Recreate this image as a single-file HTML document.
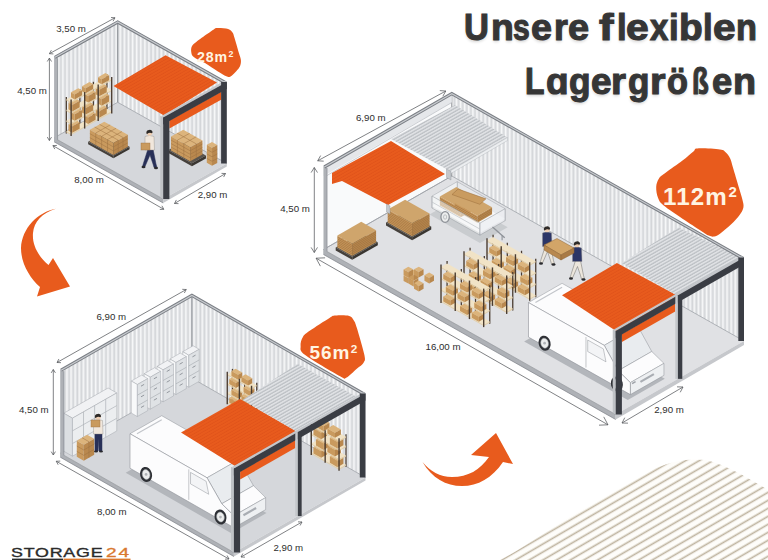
<!DOCTYPE html>
<html><head><meta charset="utf-8"><style>
html,body{margin:0;padding:0;background:#fff;}
body{width:768px;height:560px;position:relative;overflow:hidden;font-family:"Liberation Sans",sans-serif;}
.tg{position:absolute;font-weight:bold;font-size:36.8px;line-height:1;color:#363636;white-space:nowrap;transform-origin:0 0;-webkit-text-stroke:1.1px #363636;text-shadow:0 2px 3px rgba(0,0,0,0.16);}
.t{position:absolute;font-weight:bold;font-size:38.3px;color:#363636;white-space:nowrap;right:12.4px;text-shadow:0 2px 3px rgba(0,0,0,0.18);-webkit-text-stroke:1.3px #363636;}
.b{position:absolute;font-weight:bold;color:#fff4e2;white-space:nowrap;line-height:1;}
.b sup{font-size:0.62em;vertical-align:0;position:relative;top:-0.5em;margin-left:0.5px}
.logo{position:absolute;top:546px;font-size:13.4px;line-height:14px;white-space:nowrap;transform-origin:0 0;transform:scaleX(1.33);letter-spacing:0.6px;-webkit-text-stroke:0.35px currentColor;}
.logo.s{color:#2b2b2b;} .logo.n{color:#d9782f;transform:scaleX(1.42);letter-spacing:1.4px;}
.d{position:absolute;font-size:9.7px;color:#2e2e2e;white-space:nowrap;transform:translate(-50%,-50%);}
</style></head><body>
<svg width="768" height="560" viewBox="0 0 768 560" style="position:absolute;left:0;top:0">
<defs>
<pattern id="ribs" patternUnits="userSpaceOnUse" width="4.1" height="10">
<rect width="4.1" height="10" fill="#dcdee1"/>
<rect x="0.6" width="1.5" height="10" fill="#f7f8f9"/>
<rect x="3.3" width="0.5" height="10" fill="#cfd1d5"/>
</pattern>
<pattern id="hribs" patternUnits="userSpaceOnUse" width="10" height="3.3" patternTransform="skewY(-29.5)">
<rect width="10" height="3.3" fill="#dfe1e4"/>
<rect y="2.1" width="10" height="0.9" fill="#a9adb2"/>
</pattern>
<pattern id="orib" patternUnits="userSpaceOnUse" width="10" height="3.2" patternTransform="skewY(-29.5)">
<rect width="10" height="3.2" fill="#e85b1d"/>
<rect y="2.2" width="10" height="1" fill="#e0531a"/>
</pattern>
<pattern id="diag" patternUnits="userSpaceOnUse" width="20" height="6.9" patternTransform="rotate(-30.3)">
<rect y="4.5" width="20" height="1.65" fill="#bfb4a0"/>
</pattern>
</defs>
<clipPath id="dclip"><path d="M500,560 C525,547 548,530 570,517 C595,503 625,485 656,468 C672,461 690,458 705,460 C722,463 745,476 768,490 L768,560 Z"/></clipPath>
<g clip-path="url(#dclip)"><rect x="480" y="440" width="288" height="120" fill="#fefdfa"/><rect x="480" y="440" width="288" height="120" fill="url(#diag)"/></g>
<polygon points="54.10,137.80 117.70,102.30 226.80,163.50 163.20,199.00" fill="#d5d7db" />
<polygon points="54.10,56.30 117.70,20.80 117.70,102.30 54.10,137.80" fill="url(#ribs)" />
<polygon points="117.70,20.80 226.80,82.00 226.80,163.50 117.70,102.30" fill="url(#ribs)" />
<polyline points="54.10,137.80 117.70,102.30 226.80,163.50" fill="none" stroke="#9da1a7" stroke-width="0.8"/>
<line x1="117.70" y1="20.80" x2="117.70" y2="102.30" stroke="#7f8288" stroke-width="0.9" />
<line x1="66.32" y1="133.42" x2="66.32" y2="96.92" stroke="#4b3d31" stroke-width="1.3" />
<line x1="79.86" y1="125.86" x2="79.86" y2="89.36" stroke="#4b3d31" stroke-width="1.3" />
<line x1="93.39" y1="118.31" x2="93.39" y2="81.81" stroke="#4b3d31" stroke-width="1.3" />
<line x1="106.93" y1="110.75" x2="106.93" y2="74.25" stroke="#4b3d31" stroke-width="1.3" />
<polygon points="66.32,131.32 71.12,134.01 111.72,111.35 106.93,108.65" fill="#f1e3c6" />
<polygon points="66.32,132.42 71.12,135.11 71.12,134.01 66.32,131.32" fill="#e3cfa9" />
<polygon points="71.12,135.11 111.72,112.45 111.72,111.35 71.12,134.01" fill="#e3cfa9" />
<polygon points="68.47,124.21 72.22,126.31 79.66,122.15 75.91,120.05" fill="#dcb47c" />
<polygon points="68.47,130.71 72.22,132.81 72.22,126.31 68.47,124.21" fill="#c99a5e" />
<polygon points="72.22,132.81 79.66,128.65 79.66,122.15 72.22,126.31" fill="#b9884e" />
<polygon points="84.44,115.29 88.19,117.39 95.63,113.24 91.88,111.14" fill="#dcb47c" />
<polygon points="84.44,121.79 88.19,123.89 88.19,117.39 84.44,115.29" fill="#c99a5e" />
<polygon points="88.19,123.89 95.63,119.74 95.63,113.24 88.19,117.39" fill="#b9884e" />
<polygon points="95.54,109.10 99.29,111.20 106.73,107.04 102.98,104.94" fill="#dcb47c" />
<polygon points="95.54,115.60 99.29,117.70 99.29,111.20 95.54,109.10" fill="#c99a5e" />
<polygon points="99.29,117.70 106.73,113.54 106.73,107.04 99.29,111.20" fill="#b9884e" />
<polygon points="66.32,120.65 71.12,123.34 111.72,100.68 106.93,97.99" fill="#f1e3c6" />
<polygon points="66.32,121.75 71.12,124.44 71.12,123.34 66.32,120.65" fill="#e3cfa9" />
<polygon points="71.12,124.44 111.72,101.78 111.72,100.68 71.12,123.34" fill="#e3cfa9" />
<polygon points="70.91,112.18 74.66,114.28 82.10,110.13 78.35,108.02" fill="#dcb47c" />
<polygon points="70.91,118.68 74.66,120.78 74.66,114.28 70.91,112.18" fill="#c99a5e" />
<polygon points="74.66,120.78 82.10,116.63 82.10,110.13 74.66,114.28" fill="#b9884e" />
<polygon points="82.00,105.98 85.75,108.09 93.20,103.93 89.45,101.83" fill="#dcb47c" />
<polygon points="82.00,112.48 85.75,114.59 85.75,108.09 82.00,105.98" fill="#c99a5e" />
<polygon points="85.75,114.59 93.20,110.43 93.20,103.93 85.75,108.09" fill="#b9884e" />
<polygon points="97.97,97.07 101.72,99.17 109.17,95.02 105.42,92.91" fill="#dcb47c" />
<polygon points="97.97,103.57 101.72,105.67 101.72,99.17 97.97,97.07" fill="#c99a5e" />
<polygon points="101.72,105.67 109.17,101.52 109.17,95.02 101.72,99.17" fill="#b9884e" />
<polygon points="66.32,109.98 71.12,112.68 111.72,90.01 106.93,87.32" fill="#f1e3c6" />
<polygon points="66.32,111.08 71.12,113.78 71.12,112.68 66.32,109.98" fill="#e3cfa9" />
<polygon points="71.12,113.78 111.72,91.11 111.72,90.01 71.12,112.68" fill="#e3cfa9" />
<polygon points="68.47,102.87 72.22,104.98 79.66,100.82 75.91,98.72" fill="#dcb47c" />
<polygon points="68.47,109.37 72.22,111.48 72.22,104.98 68.47,102.87" fill="#c99a5e" />
<polygon points="72.22,111.48 79.66,107.32 79.66,100.82 72.22,104.98" fill="#b9884e" />
<polygon points="84.44,93.96 88.19,96.06 95.63,91.91 91.88,89.80" fill="#dcb47c" />
<polygon points="84.44,100.46 88.19,102.56 88.19,96.06 84.44,93.96" fill="#c99a5e" />
<polygon points="88.19,102.56 95.63,98.41 95.63,91.91 88.19,96.06" fill="#b9884e" />
<polygon points="95.54,87.76 99.29,89.87 106.73,85.71 102.98,83.61" fill="#dcb47c" />
<polygon points="95.54,94.26 99.29,96.37 99.29,89.87 95.54,87.76" fill="#c99a5e" />
<polygon points="99.29,96.37 106.73,92.21 106.73,85.71 99.29,89.87" fill="#b9884e" />
<polygon points="66.32,99.32 71.12,102.01 111.72,79.35 106.93,76.65" fill="#f1e3c6" />
<polygon points="66.32,100.42 71.12,103.11 71.12,102.01 66.32,99.32" fill="#e3cfa9" />
<polygon points="71.12,103.11 111.72,80.45 111.72,79.35 71.12,102.01" fill="#e3cfa9" />
<polygon points="70.91,92.35 74.66,94.45 82.10,90.29 78.35,88.19" fill="#dcb47c" />
<polygon points="70.91,97.35 74.66,99.45 74.66,94.45 70.91,92.35" fill="#c99a5e" />
<polygon points="74.66,99.45 82.10,95.29 82.10,90.29 74.66,94.45" fill="#b9884e" />
<polygon points="82.00,86.15 85.75,88.25 93.20,84.10 89.45,82.00" fill="#dcb47c" />
<polygon points="82.00,91.15 85.75,93.25 85.75,88.25 82.00,86.15" fill="#c99a5e" />
<polygon points="85.75,93.25 93.20,89.10 93.20,84.10 85.75,88.25" fill="#b9884e" />
<polygon points="97.97,77.24 101.72,79.34 109.17,75.18 105.42,73.08" fill="#dcb47c" />
<polygon points="97.97,82.24 101.72,84.34 101.72,79.34 97.97,77.24" fill="#c99a5e" />
<polygon points="101.72,84.34 109.17,80.18 109.17,75.18 101.72,79.34" fill="#b9884e" />
<line x1="71.12" y1="136.11" x2="71.12" y2="99.61" stroke="#4b3d31" stroke-width="1.4" />
<line x1="84.65" y1="128.55" x2="84.65" y2="92.05" stroke="#4b3d31" stroke-width="1.4" />
<line x1="98.19" y1="121.00" x2="98.19" y2="84.50" stroke="#4b3d31" stroke-width="1.4" />
<line x1="111.72" y1="113.45" x2="111.72" y2="76.95" stroke="#4b3d31" stroke-width="1.4" />
<polygon points="88.13,141.68 113.42,155.87 129.57,146.86 104.28,132.67" fill="#5a544d" />
<polygon points="88.13,144.18 113.42,158.37 113.42,155.87 88.13,141.68" fill="#45403b" />
<polygon points="113.42,158.37 129.57,149.36 129.57,146.86 113.42,155.87" fill="#3a3631" />
<polygon points="89.87,129.69 113.42,142.90 127.83,134.85 104.28,121.64" fill="#dcb47c" />
<polygon points="89.87,141.69 113.42,154.90 113.42,142.90 89.87,129.69" fill="#c99a5e" />
<polygon points="113.42,154.90 127.83,146.85 127.83,134.85 113.42,142.90" fill="#b9884e" />
<polyline points="89.87,137.69 113.42,150.90 127.83,142.85" fill="none" stroke="#9c7040" stroke-width="0.5"/>
<polyline points="89.87,133.69 113.42,146.90 127.83,138.85" fill="none" stroke="#9c7040" stroke-width="0.5"/>
<polyline points="95.76,144.99 95.76,132.99 110.17,124.95" fill="none" stroke="#9c7040" stroke-width="0.5"/>
<polyline points="101.65,148.29 101.65,136.29 116.05,128.25" fill="none" stroke="#9c7040" stroke-width="0.5"/>
<polyline points="107.53,151.59 107.53,139.59 121.94,131.55" fill="none" stroke="#9c7040" stroke-width="0.5"/>
<polyline points="118.22,152.21 118.22,140.21 94.68,127.01" fill="none" stroke="#9c7040" stroke-width="0.5"/>
<polyline points="123.03,149.53 123.03,137.53 99.48,124.32" fill="none" stroke="#9c7040" stroke-width="0.5"/>
<g transform="translate(149.5,167) scale(1.0)"><path d="M-1.5,-18 L-6,-4 L-7,-0.5 L-4.5,-0.5 L0.5,-12 L3.5,-3 L4.5,0.5 L7.5,0.5 L6.5,-3 L3.5,-18 Z" fill="#283058" stroke="#283058" stroke-width="0.5"/><ellipse cx="-6" cy="0" rx="2" ry="1.2" fill="#2a2a2e"/><ellipse cx="6.5" cy="1" rx="2" ry="1.2" fill="#2a2a2e"/><path d="M-4.5,-30.5 Q0,-32.5 4.5,-30.5 L5,-17 L-4.5,-17 Z" fill="#f1e7dc" stroke="#8d8a86" stroke-width="0.4"/><circle cx="0" cy="-34" r="2.8" fill="#efcfb3"/><path d="M-3.1,-33.6 A3.1,3.1 0 0 1 3.1,-34.4 L2.2,-33.8 Q0,-35 -2.4,-33 Z" fill="#2d2a28"/></g>
<rect x="141" y="143" width="9" height="7" fill="#c99a5e" stroke="#9c7040" stroke-width="0.4"/>
<polygon points="168.40,150.06 191.95,163.27 205.92,155.47 182.37,142.26" fill="#5a544d" />
<polygon points="168.40,153.06 191.95,166.27 191.95,163.27 168.40,150.06" fill="#45403b" />
<polygon points="191.95,166.27 205.92,158.47 205.92,155.47 191.95,163.27" fill="#3a3631" />
<polygon points="171.02,136.55 190.21,147.31 202.43,140.49 183.25,129.73" fill="#dcb47c" />
<polygon points="171.02,150.55 190.21,161.31 190.21,147.31 171.02,136.55" fill="#c99a5e" />
<polygon points="190.21,161.31 202.43,154.49 202.43,140.49 190.21,147.31" fill="#b9884e" />
<polyline points="171.02,147.05 190.21,157.81 202.43,150.99" fill="none" stroke="#9c7040" stroke-width="0.5"/>
<polyline points="171.02,143.55 190.21,154.31 202.43,147.49" fill="none" stroke="#9c7040" stroke-width="0.5"/>
<polyline points="171.02,140.05 190.21,150.81 202.43,143.99" fill="none" stroke="#9c7040" stroke-width="0.5"/>
<polyline points="177.42,154.14 177.42,140.14 189.64,133.31" fill="none" stroke="#9c7040" stroke-width="0.5"/>
<polyline points="183.81,157.73 183.81,143.73 196.04,136.90" fill="none" stroke="#9c7040" stroke-width="0.5"/>
<polyline points="196.32,157.90 196.32,143.90 177.13,133.14" fill="none" stroke="#9c7040" stroke-width="0.5"/>
<polygon points="206.79,144.87 212.02,147.80 217.26,144.88 212.03,141.94" fill="#dcb47c" />
<polygon points="206.79,162.87 212.02,165.80 212.02,147.80 206.79,144.87" fill="#c99a5e" />
<polygon points="212.02,165.80 217.26,162.88 217.26,144.88 212.02,147.80" fill="#b9884e" />
<polyline points="206.79,158.37 212.02,161.30 217.26,158.38" fill="none" stroke="#9c7040" stroke-width="0.5"/>
<polyline points="206.79,153.87 212.02,156.80 217.26,153.88" fill="none" stroke="#9c7040" stroke-width="0.5"/>
<polyline points="206.79,149.37 212.02,152.30 217.26,149.38" fill="none" stroke="#9c7040" stroke-width="0.5"/>
<polygon points="113.50,86.00 165.50,55.30 217.00,82.50 164.00,115.50" fill="url(#orib)" />
<polygon points="54.10,137.80 163.20,199.00 163.20,203.00 54.10,141.80" fill="#aeb1b6" />
<polygon points="163.20,199.00 226.80,163.50 226.80,166.50 163.20,203.00" fill="#c6c8cc" />
<line x1="54.10" y1="141.80" x2="163.20" y2="203.00" stroke="#7d8086" stroke-width="0.7" />
<line x1="54.10" y1="137.80" x2="163.20" y2="199.00" stroke="#8a8d92" stroke-width="0.6" />
<polygon points="54.10,56.30 57.60,58.30 57.60,139.80 54.10,141.80" fill="#aeb1b6" />
<line x1="57.60" y1="58.30" x2="57.60" y2="139.80" stroke="#8d9197" stroke-width="0.8" />
<polyline points="54.90,57.30 117.70,22.00 226.00,83.00" fill="none" stroke="#7b7f85" stroke-width="3.2" stroke-linejoin="miter"/>
<polyline points="54.90,57.30 117.70,22.00 226.00,83.00" fill="none" stroke="#c9ccd0" stroke-width="1.1" stroke-linejoin="miter"/>
<polygon points="169.40,120.54 221.10,91.68 221.10,99.68 169.40,128.54" fill="#e85b1d" />
<polygon points="160.93,116.23 224.53,80.73 226.80,82.00 163.20,117.50" fill="#c4c7cb" />
<polygon points="160.23,115.84 163.20,117.50 163.20,199.00 160.23,197.34" fill="#bfc2c6" />
<polygon points="163.20,117.50 226.80,82.00 226.80,89.00 163.20,124.50" fill="#3a3d44" />
<polygon points="163.20,117.50 169.40,117.50 169.40,199.00 163.20,199.00" fill="#3a3d44" />
<polygon points="221.10,82.00 226.80,82.00 226.80,163.50 221.10,163.50" fill="#3a3d44" />
<polygon points="60.30,453.20 191.90,378.20 365.50,477.50 233.90,552.50" fill="#d5d7db" />
<polygon points="60.30,369.20 191.90,294.20 191.90,378.20 60.30,453.20" fill="url(#ribs)" />
<polygon points="191.90,294.20 365.50,393.50 365.50,477.50 191.90,378.20" fill="url(#ribs)" />
<polyline points="60.30,453.20 191.90,378.20 365.50,477.50" fill="none" stroke="#9da1a7" stroke-width="0.8"/>
<line x1="191.90" y1="294.20" x2="191.90" y2="378.20" stroke="#7f8288" stroke-width="0.9" />
<polygon points="63.78,413.22 72.46,418.18 116.76,392.93 108.08,387.97" fill="#f1f2f4" stroke="#a3a7ac" stroke-width="0.5" stroke-linejoin="round"/>
<polygon points="63.78,451.22 72.46,456.18 72.46,418.18 63.78,413.22" fill="#dcdfe2" stroke="#a3a7ac" stroke-width="0.5" stroke-linejoin="round"/>
<polygon points="72.46,456.18 116.76,430.93 116.76,392.93 72.46,418.18" fill="#eceef0" stroke="#a3a7ac" stroke-width="0.5" stroke-linejoin="round"/>
<line x1="83.53" y1="449.87" x2="83.53" y2="411.87" stroke="#aeb2b7" stroke-width="0.7" />
<line x1="94.61" y1="443.56" x2="94.61" y2="405.56" stroke="#aeb2b7" stroke-width="0.7" />
<line x1="105.69" y1="437.25" x2="105.69" y2="399.25" stroke="#aeb2b7" stroke-width="0.7" />
<line x1="72.46" y1="443.52" x2="116.76" y2="418.27" stroke="#aeb2b7" stroke-width="0.7" />
<line x1="72.46" y1="430.85" x2="116.76" y2="405.60" stroke="#aeb2b7" stroke-width="0.7" />
<polygon points="76.80,440.68 83.74,444.66 94.17,438.71 87.22,434.74" fill="#dcb47c" />
<polygon points="76.80,456.68 83.74,460.66 83.74,444.66 76.80,440.68" fill="#c99a5e" />
<polygon points="83.74,460.66 94.17,454.71 94.17,438.71 83.74,444.66" fill="#b9884e" />
<polyline points="76.80,451.35 83.74,455.32 94.17,449.38" fill="none" stroke="#9c7040" stroke-width="0.5"/>
<polyline points="76.80,446.02 83.74,449.99 94.17,444.05" fill="none" stroke="#9c7040" stroke-width="0.5"/>
<polyline points="88.95,457.69 88.95,441.69 82.01,437.71" fill="none" stroke="#9c7040" stroke-width="0.5"/>
<g transform="translate(98,451) scale(1.0)"><path d="M-3,-18 L-3,0 L0,0 L0,-12 L1,0 L4,0 L4,-18 Z" fill="#283058" stroke="#283058" stroke-width="0.5"/><ellipse cx="-2" cy="0.5" rx="2" ry="1.1" fill="#2a2a2e"/><ellipse cx="3" cy="0.5" rx="2" ry="1.1" fill="#2a2a2e"/><path d="M-4.5,-30.5 Q0,-32.5 4.5,-30.5 L5,-17 L-4.5,-17 Z" fill="#f1e7dc" stroke="#8d8a86" stroke-width="0.4"/><circle cx="0" cy="-34" r="2.8" fill="#efcfb3"/><path d="M-3.1,-33.6 A3.1,3.1 0 0 1 3.1,-34.4 L2.2,-33.8 Q0,-35 -2.4,-33 Z" fill="#2d2a28"/></g>
<rect x="91" y="420" width="9" height="7" fill="#c99a5e" stroke="#9c7040" stroke-width="0.4"/>
<polygon points="182.72,351.73 188.79,355.21 199.22,349.27 193.14,345.79" fill="#f2f3f5" stroke="#a4a8ae" stroke-width="0.5" stroke-linejoin="round"/>
<polygon points="182.72,383.73 188.79,387.21 188.79,355.21 182.72,351.73" fill="#f8f9fa" stroke="#a4a8ae" stroke-width="0.5" stroke-linejoin="round"/>
<polygon points="188.79,387.21 199.22,381.27 199.22,349.27 188.79,355.21" fill="#dfe2e5" stroke="#a4a8ae" stroke-width="0.5" stroke-linejoin="round"/>
<line x1="188.79" y1="376.54" x2="199.22" y2="370.60" stroke="#a3a7ad" stroke-width="0.6" />
<line x1="188.79" y1="365.87" x2="199.22" y2="359.93" stroke="#a3a7ad" stroke-width="0.6" />
<line x1="192.44" y1="378.19" x2="195.57" y2="376.41" stroke="#8a8e95" stroke-width="0.9" />
<line x1="192.44" y1="367.53" x2="195.57" y2="365.75" stroke="#8a8e95" stroke-width="0.9" />
<line x1="192.44" y1="356.86" x2="195.57" y2="355.08" stroke="#8a8e95" stroke-width="0.9" />
<polygon points="169.86,359.06 175.93,362.54 186.36,356.59 180.28,353.12" fill="#f2f3f5" stroke="#a4a8ae" stroke-width="0.5" stroke-linejoin="round"/>
<polygon points="169.86,391.06 175.93,394.54 175.93,362.54 169.86,359.06" fill="#f8f9fa" stroke="#a4a8ae" stroke-width="0.5" stroke-linejoin="round"/>
<polygon points="175.93,394.54 186.36,388.59 186.36,356.59 175.93,362.54" fill="#dfe2e5" stroke="#a4a8ae" stroke-width="0.5" stroke-linejoin="round"/>
<line x1="175.93" y1="383.87" x2="186.36" y2="377.93" stroke="#a3a7ad" stroke-width="0.6" />
<line x1="175.93" y1="373.20" x2="186.36" y2="367.26" stroke="#a3a7ad" stroke-width="0.6" />
<line x1="179.58" y1="385.52" x2="182.71" y2="383.74" stroke="#8a8e95" stroke-width="0.9" />
<line x1="179.58" y1="374.86" x2="182.71" y2="373.07" stroke="#8a8e95" stroke-width="0.9" />
<line x1="179.58" y1="364.19" x2="182.71" y2="362.41" stroke="#8a8e95" stroke-width="0.9" />
<polygon points="157.00,366.39 163.07,369.86 173.50,363.92 167.42,360.45" fill="#f2f3f5" stroke="#a4a8ae" stroke-width="0.5" stroke-linejoin="round"/>
<polygon points="157.00,398.39 163.07,401.86 163.07,369.86 157.00,366.39" fill="#f8f9fa" stroke="#a4a8ae" stroke-width="0.5" stroke-linejoin="round"/>
<polygon points="163.07,401.86 173.50,395.92 173.50,363.92 163.07,369.86" fill="#dfe2e5" stroke="#a4a8ae" stroke-width="0.5" stroke-linejoin="round"/>
<line x1="163.07" y1="391.20" x2="173.50" y2="385.26" stroke="#a3a7ad" stroke-width="0.6" />
<line x1="163.07" y1="380.53" x2="173.50" y2="374.59" stroke="#a3a7ad" stroke-width="0.6" />
<line x1="166.72" y1="392.85" x2="169.85" y2="391.07" stroke="#8a8e95" stroke-width="0.9" />
<line x1="166.72" y1="382.18" x2="169.85" y2="380.40" stroke="#8a8e95" stroke-width="0.9" />
<line x1="166.72" y1="371.52" x2="169.85" y2="369.73" stroke="#8a8e95" stroke-width="0.9" />
<polygon points="144.14,373.72 150.22,377.19 160.64,371.25 154.57,367.77" fill="#f2f3f5" stroke="#a4a8ae" stroke-width="0.5" stroke-linejoin="round"/>
<polygon points="144.14,405.72 150.22,409.19 150.22,377.19 144.14,373.72" fill="#f8f9fa" stroke="#a4a8ae" stroke-width="0.5" stroke-linejoin="round"/>
<polygon points="150.22,409.19 160.64,403.25 160.64,371.25 150.22,377.19" fill="#dfe2e5" stroke="#a4a8ae" stroke-width="0.5" stroke-linejoin="round"/>
<line x1="150.22" y1="398.53" x2="160.64" y2="392.58" stroke="#a3a7ad" stroke-width="0.6" />
<line x1="150.22" y1="387.86" x2="160.64" y2="381.92" stroke="#a3a7ad" stroke-width="0.6" />
<line x1="153.87" y1="400.18" x2="156.99" y2="398.40" stroke="#8a8e95" stroke-width="0.9" />
<line x1="153.87" y1="389.51" x2="156.99" y2="387.73" stroke="#8a8e95" stroke-width="0.9" />
<line x1="153.87" y1="378.85" x2="156.99" y2="377.06" stroke="#8a8e95" stroke-width="0.9" />
<polygon points="131.28,381.04 137.36,384.52 147.78,378.58 141.71,375.10" fill="#f2f3f5" stroke="#a4a8ae" stroke-width="0.5" stroke-linejoin="round"/>
<polygon points="131.28,413.04 137.36,416.52 137.36,384.52 131.28,381.04" fill="#f8f9fa" stroke="#a4a8ae" stroke-width="0.5" stroke-linejoin="round"/>
<polygon points="137.36,416.52 147.78,410.58 147.78,378.58 137.36,384.52" fill="#dfe2e5" stroke="#a4a8ae" stroke-width="0.5" stroke-linejoin="round"/>
<line x1="137.36" y1="405.85" x2="147.78" y2="399.91" stroke="#a3a7ad" stroke-width="0.6" />
<line x1="137.36" y1="395.19" x2="147.78" y2="389.24" stroke="#a3a7ad" stroke-width="0.6" />
<line x1="141.01" y1="407.51" x2="144.13" y2="405.72" stroke="#8a8e95" stroke-width="0.9" />
<line x1="141.01" y1="396.84" x2="144.13" y2="395.06" stroke="#8a8e95" stroke-width="0.9" />
<line x1="141.01" y1="386.17" x2="144.13" y2="384.39" stroke="#8a8e95" stroke-width="0.9" />
<line x1="232.46" y1="401.37" x2="232.46" y2="368.87" stroke="#4b3d31" stroke-width="1.3" />
<line x1="244.61" y1="408.32" x2="244.61" y2="375.82" stroke="#4b3d31" stroke-width="1.3" />
<line x1="256.77" y1="415.28" x2="256.77" y2="382.78" stroke="#4b3d31" stroke-width="1.3" />
<polygon points="227.25,402.24 251.55,416.15 256.77,413.18 232.46,399.27" fill="#f1e3c6" />
<polygon points="227.25,403.34 251.55,417.25 251.55,416.15 227.25,402.24" fill="#e3cfa9" />
<polygon points="251.55,417.25 256.77,414.28 256.77,413.18 251.55,416.15" fill="#e3cfa9" />
<polygon points="229.23,397.78 235.91,401.60 240.08,399.23 233.40,395.40" fill="#dcb47c" />
<polygon points="229.23,402.78 235.91,406.60 235.91,401.60 229.23,397.78" fill="#c99a5e" />
<polygon points="235.91,406.60 240.08,404.23 240.08,399.23 235.91,401.60" fill="#b9884e" />
<polygon points="243.57,405.98 250.25,409.81 254.42,407.43 247.74,403.61" fill="#dcb47c" />
<polygon points="243.57,410.98 250.25,414.81 250.25,409.81 243.57,405.98" fill="#c99a5e" />
<polygon points="250.25,414.81 254.42,412.43 254.42,407.43 250.25,409.81" fill="#b9884e" />
<polygon points="227.25,392.91 251.55,406.81 256.77,403.84 232.46,389.94" fill="#f1e3c6" />
<polygon points="227.25,394.01 251.55,407.91 251.55,406.81 227.25,392.91" fill="#e3cfa9" />
<polygon points="251.55,407.91 256.77,404.94 256.77,403.84 251.55,406.81" fill="#e3cfa9" />
<polygon points="231.42,389.70 238.10,393.52 242.27,391.15 235.59,387.32" fill="#dcb47c" />
<polygon points="231.42,394.70 238.10,398.52 238.10,393.52 231.42,389.70" fill="#c99a5e" />
<polygon points="238.10,398.52 242.27,396.15 242.27,391.15 238.10,393.52" fill="#b9884e" />
<polygon points="241.38,395.40 248.06,399.22 252.24,396.85 245.55,393.02" fill="#dcb47c" />
<polygon points="241.38,400.40 248.06,404.22 248.06,399.22 241.38,395.40" fill="#c99a5e" />
<polygon points="248.06,404.22 252.24,401.85 252.24,396.85 248.06,399.22" fill="#b9884e" />
<polygon points="227.25,383.58 251.55,397.48 256.77,394.51 232.46,380.61" fill="#f1e3c6" />
<polygon points="227.25,384.68 251.55,398.58 251.55,397.48 227.25,383.58" fill="#e3cfa9" />
<polygon points="251.55,398.58 256.77,395.61 256.77,394.51 251.55,397.48" fill="#e3cfa9" />
<polygon points="229.23,379.11 235.91,382.94 240.08,380.56 233.40,376.74" fill="#dcb47c" />
<polygon points="229.23,384.11 235.91,387.94 235.91,382.94 229.23,379.11" fill="#c99a5e" />
<polygon points="235.91,387.94 240.08,385.56 240.08,380.56 235.91,382.94" fill="#b9884e" />
<polygon points="243.57,387.32 250.25,391.14 254.42,388.76 247.74,384.94" fill="#dcb47c" />
<polygon points="243.57,392.32 250.25,396.14 250.25,391.14 243.57,387.32" fill="#c99a5e" />
<polygon points="250.25,396.14 254.42,393.76 254.42,388.76 250.25,391.14" fill="#b9884e" />
<polygon points="227.25,374.24 251.55,388.15 256.77,385.18 232.46,371.27" fill="#f1e3c6" />
<polygon points="227.25,375.34 251.55,389.25 251.55,388.15 227.25,374.24" fill="#e3cfa9" />
<polygon points="251.55,389.25 256.77,386.28 256.77,385.18 251.55,388.15" fill="#e3cfa9" />
<polygon points="231.42,371.03 238.10,374.86 242.27,372.48 235.59,368.66" fill="#dcb47c" />
<polygon points="231.42,376.03 238.10,379.86 238.10,374.86 231.42,371.03" fill="#c99a5e" />
<polygon points="238.10,379.86 242.27,377.48 242.27,372.48 238.10,374.86" fill="#b9884e" />
<polygon points="241.38,376.73 248.06,380.56 252.24,378.18 245.55,374.36" fill="#dcb47c" />
<polygon points="241.38,381.73 248.06,385.56 248.06,380.56 241.38,376.73" fill="#c99a5e" />
<polygon points="248.06,385.56 252.24,383.18 252.24,378.18 248.06,380.56" fill="#b9884e" />
<line x1="227.25" y1="404.34" x2="227.25" y2="371.84" stroke="#4b3d31" stroke-width="1.4" />
<line x1="239.40" y1="411.30" x2="239.40" y2="378.80" stroke="#4b3d31" stroke-width="1.4" />
<line x1="251.55" y1="418.25" x2="251.55" y2="385.75" stroke="#4b3d31" stroke-width="1.4" />
<line x1="318.22" y1="450.92" x2="318.22" y2="418.42" stroke="#4b3d31" stroke-width="1.3" />
<line x1="332.11" y1="458.87" x2="332.11" y2="426.37" stroke="#4b3d31" stroke-width="1.3" />
<line x1="346.00" y1="466.81" x2="346.00" y2="434.31" stroke="#4b3d31" stroke-width="1.3" />
<polygon points="311.27,452.79 339.05,468.67 346.00,464.71 318.22,448.82" fill="#f1e3c6" />
<polygon points="311.27,453.89 339.05,469.77 339.05,468.67 311.27,452.79" fill="#e3cfa9" />
<polygon points="339.05,469.77 346.00,465.81 346.00,464.71 339.05,468.67" fill="#e3cfa9" />
<polygon points="313.46,446.94 321.10,451.31 327.01,447.94 319.37,443.58" fill="#dcb47c" />
<polygon points="313.46,453.44 321.10,457.81 321.10,451.31 313.46,446.94" fill="#c99a5e" />
<polygon points="321.10,457.81 327.01,454.44 327.01,447.94 321.10,451.31" fill="#b9884e" />
<polygon points="329.85,456.32 337.49,460.69 343.39,457.32 335.76,452.95" fill="#dcb47c" />
<polygon points="329.85,462.82 337.49,467.19 337.49,460.69 329.85,456.32" fill="#c99a5e" />
<polygon points="337.49,467.19 343.39,463.82 343.39,457.32 337.49,460.69" fill="#b9884e" />
<polygon points="311.27,443.45 339.05,459.34 346.00,455.38 318.22,439.49" fill="#f1e3c6" />
<polygon points="311.27,444.55 339.05,460.44 339.05,459.34 311.27,443.45" fill="#e3cfa9" />
<polygon points="339.05,460.44 346.00,456.48 346.00,455.38 339.05,459.34" fill="#e3cfa9" />
<polygon points="315.96,439.04 323.60,443.41 329.51,440.04 321.87,435.67" fill="#dcb47c" />
<polygon points="315.96,445.54 323.60,449.91 323.60,443.41 315.96,439.04" fill="#c99a5e" />
<polygon points="323.60,449.91 329.51,446.54 329.51,440.04 323.60,443.41" fill="#b9884e" />
<polygon points="327.35,445.55 334.99,449.92 340.89,446.56 333.26,442.19" fill="#dcb47c" />
<polygon points="327.35,452.05 334.99,456.42 334.99,449.92 327.35,445.55" fill="#c99a5e" />
<polygon points="334.99,456.42 340.89,453.06 340.89,446.56 334.99,449.92" fill="#b9884e" />
<polygon points="311.27,434.12 339.05,450.01 346.00,446.05 318.22,430.16" fill="#f1e3c6" />
<polygon points="311.27,435.22 339.05,451.11 339.05,450.01 311.27,434.12" fill="#e3cfa9" />
<polygon points="339.05,451.11 346.00,447.15 346.00,446.05 339.05,450.01" fill="#e3cfa9" />
<polygon points="313.46,428.28 321.10,432.64 327.01,429.28 319.37,424.91" fill="#dcb47c" />
<polygon points="313.46,434.78 321.10,439.14 321.10,432.64 313.46,428.28" fill="#c99a5e" />
<polygon points="321.10,439.14 327.01,435.78 327.01,429.28 321.10,432.64" fill="#b9884e" />
<polygon points="329.85,437.65 337.49,442.02 343.39,438.65 335.76,434.28" fill="#dcb47c" />
<polygon points="329.85,444.15 337.49,448.52 337.49,442.02 329.85,437.65" fill="#c99a5e" />
<polygon points="337.49,448.52 343.39,445.15 343.39,438.65 337.49,442.02" fill="#b9884e" />
<polygon points="311.27,424.79 339.05,440.67 346.00,436.71 318.22,420.82" fill="#f1e3c6" />
<polygon points="311.27,425.89 339.05,441.77 339.05,440.67 311.27,424.79" fill="#e3cfa9" />
<polygon points="339.05,441.77 346.00,437.81 346.00,436.71 339.05,440.67" fill="#e3cfa9" />
<polygon points="315.96,421.87 323.60,426.24 329.51,422.87 321.87,418.51" fill="#dcb47c" />
<polygon points="315.96,426.87 323.60,431.24 323.60,426.24 315.96,421.87" fill="#c99a5e" />
<polygon points="323.60,431.24 329.51,427.87 329.51,422.87 323.60,426.24" fill="#b9884e" />
<polygon points="327.35,428.39 334.99,432.76 340.89,429.39 333.26,425.02" fill="#dcb47c" />
<polygon points="327.35,433.39 334.99,437.76 334.99,432.76 327.35,428.39" fill="#c99a5e" />
<polygon points="334.99,437.76 340.89,434.39 340.89,429.39 334.99,432.76" fill="#b9884e" />
<line x1="311.27" y1="454.89" x2="311.27" y2="422.39" stroke="#4b3d31" stroke-width="1.4" />
<line x1="325.16" y1="462.83" x2="325.16" y2="430.33" stroke="#4b3d31" stroke-width="1.4" />
<line x1="339.05" y1="470.77" x2="339.05" y2="438.27" stroke="#4b3d31" stroke-width="1.4" />
<polygon points="125.68,472.74 231.32,533.16 266.50,513.11 160.86,452.68" fill="#b3b6bb" />
<polygon points="130.02,433.75 207.01,477.79 238.73,459.72 161.73,415.68" fill="#fcfcfd" stroke="#8e9298" stroke-width="0.5" stroke-linejoin="round"/>
<polygon points="207.01,477.79 221.77,503.74 253.48,485.66 238.73,459.72" fill="#e9ecef" stroke="#8e9298" stroke-width="0.5" stroke-linejoin="round"/>
<polygon points="221.77,503.74 233.92,515.69 265.63,497.61 253.48,485.66" fill="#fcfcfd" stroke="#8e9298" stroke-width="0.5" stroke-linejoin="round"/>
<line x1="136.97" y1="433.76" x2="161.73" y2="419.65" stroke="#c2c5ca" stroke-width="1.2" />
<polygon points="233.92,515.69 233.92,527.69 265.63,509.61 265.63,497.61" fill="#eef0f2" stroke="#8e9298" stroke-width="0.5"/>
<polygon points="130.02,433.75 207.01,477.79 221.77,503.74 233.92,515.69 233.92,527.69 130.02,468.25" fill="#fcfcfd" stroke="#8e9298" stroke-width="0.6" stroke-linejoin="round"/>
<line x1="188.79" y1="469.37" x2="188.79" y2="499.87" stroke="#8e9298" stroke-width="0.5" />
<polygon points="190.52,472.36 206.15,481.30 208.75,494.29 190.52,483.86" fill="#f3f4f6" stroke="#8e9298" stroke-width="0.5"/>
<line x1="243.44" y1="515.26" x2="256.12" y2="508.04" stroke="#a9adb3" stroke-width="2.2" />
<line x1="235.66" y1="516.70" x2="239.14" y2="514.72" stroke="#9ea2a8" stroke-width="1.5" />
<ellipse cx="146.08" cy="474.48" rx="5.93" ry="7.60" transform="rotate(-14 146.08 474.48)" fill="#2e3035"/>
<ellipse cx="146.08" cy="474.48" rx="3.80" ry="5.02" transform="rotate(-14 146.08 474.48)" fill="#eceded" stroke="#9a9ea3" stroke-width="0.5"/>
<circle cx="146.08" cy="474.48" r="1.37" fill="#b0b3b7"/>
<ellipse cx="220.47" cy="517.03" rx="5.93" ry="7.60" transform="rotate(-14 220.47 517.03)" fill="#2e3035"/>
<ellipse cx="220.47" cy="517.03" rx="3.80" ry="5.02" transform="rotate(-14 220.47 517.03)" fill="#eceded" stroke="#9a9ea3" stroke-width="0.5"/>
<circle cx="220.47" cy="517.03" r="1.37" fill="#b0b3b7"/>
<polygon points="240.00,399.00 297.50,432.00 235.00,466.00 181.00,432.40" fill="url(#orib)" />
<polygon points="297.50,363.75 357.00,397.00 297.50,432.00 242.50,400.00" fill="url(#hribs)" />
<polygon points="60.30,453.20 233.90,552.50 233.90,556.50 60.30,457.20" fill="#aeb1b6" />
<polygon points="233.90,552.50 365.50,477.50 365.50,480.50 233.90,556.50" fill="#c6c8cc" />
<line x1="60.30" y1="457.20" x2="233.90" y2="556.50" stroke="#7d8086" stroke-width="0.7" />
<line x1="60.30" y1="453.20" x2="233.90" y2="552.50" stroke="#8a8d92" stroke-width="0.6" />
<polygon points="60.30,369.20 63.80,371.20 63.80,455.20 60.30,457.20" fill="#aeb1b6" />
<line x1="63.80" y1="371.20" x2="63.80" y2="455.20" stroke="#8d9197" stroke-width="0.8" />
<polyline points="61.10,370.20 191.90,295.40 364.70,394.50" fill="none" stroke="#7b7f85" stroke-width="3.2" stroke-linejoin="miter"/>
<polyline points="61.10,370.20 191.90,295.40 364.70,394.50" fill="none" stroke="#c9ccd0" stroke-width="1.1" stroke-linejoin="miter"/>
<polygon points="240.10,471.47 295.23,440.05 295.23,448.05 240.10,479.47" fill="#e85b1d" />
<polygon points="231.64,467.21 363.24,392.21 365.50,393.50 233.90,468.50" fill="#c4c7cb" />
<polygon points="230.95,466.81 233.90,468.50 233.90,552.50 230.95,550.81" fill="#bfc2c6" />
<polygon points="233.90,468.50 365.50,393.50 365.50,400.50 233.90,475.50" fill="#3a3d44" />
<polygon points="233.90,468.50 240.10,468.50 240.10,552.50 233.90,552.50" fill="#3a3d44" />
<polygon points="359.80,393.50 365.50,393.50 365.50,477.50 359.80,477.50" fill="#3a3d44" />
<polygon points="295.26,432.05 297.86,432.05 297.86,516.05 295.26,516.05" fill="#c4c7cb" />
<polygon points="297.86,432.05 301.66,432.05 301.66,516.05 297.86,516.05" fill="#3a3d44" />
<polygon points="323.50,249.50 451.80,176.00 744.00,341.00 615.70,414.50" fill="#e0e1e4" />
<polygon points="323.50,166.00 451.80,92.50 451.80,176.00 323.50,249.50" fill="#f9fafb" />
<polygon points="451.80,92.50 744.00,257.50 744.00,341.00 451.80,176.00" fill="url(#ribs)" />
<polyline points="323.50,249.50 451.80,176.00 744.00,341.00" fill="none" stroke="#9da1a7" stroke-width="0.8"/>
<line x1="451.80" y1="92.50" x2="451.80" y2="176.00" stroke="#7f8288" stroke-width="0.9" />
<polygon points="323.50,166.00 451.80,92.50 451.80,102.50 323.50,176.00" fill="#e5e7ea" />
<line x1="327.00" y1="175.50" x2="451.80" y2="102.50" stroke="#b9bcc1" stroke-width="0.7" />
<line x1="323.50" y1="249.50" x2="451.83" y2="175.98" stroke="#9da1a7" stroke-width="0.8" />
<polygon points="335.67,247.45 352.22,256.79 377.81,242.13 361.27,232.79" fill="#5a544d" />
<polygon points="335.67,250.45 352.22,259.79 352.22,256.79 335.67,247.45" fill="#45403b" />
<polygon points="352.22,259.79 377.81,245.13 377.81,242.13 352.22,256.79" fill="#3a3631" />
<polygon points="337.41,235.45 352.21,243.80 376.08,230.13 361.27,221.78" fill="#cfa56c" />
<polygon points="337.41,247.45 352.21,255.80 352.21,243.80 337.41,235.45" fill="#c9995c" />
<polygon points="352.21,255.80 376.08,242.13 376.08,230.13 352.21,243.80" fill="#b8894f" />
<polyline points="337.41,245.73 352.21,254.09 376.08,240.42" fill="none" stroke="#9a6c3a" stroke-width="0.6"/>
<polyline points="337.41,244.02 352.21,252.38 376.08,238.71" fill="none" stroke="#9a6c3a" stroke-width="0.6"/>
<polyline points="337.41,242.30 352.21,250.66 376.08,236.99" fill="none" stroke="#9a6c3a" stroke-width="0.6"/>
<polyline points="337.41,240.59 352.21,248.95 376.08,235.28" fill="none" stroke="#9a6c3a" stroke-width="0.6"/>
<polyline points="337.41,238.87 352.21,247.23 376.08,233.56" fill="none" stroke="#9a6c3a" stroke-width="0.6"/>
<polyline points="337.41,237.16 352.21,245.52 376.08,231.85" fill="none" stroke="#9a6c3a" stroke-width="0.6"/>
<polygon points="386.01,222.58 412.13,237.33 431.22,226.39 405.10,211.64" fill="#5a544d" />
<polygon points="386.01,225.58 412.13,240.33 412.13,237.33 386.01,222.58" fill="#45403b" />
<polygon points="412.13,240.33 431.22,229.39 431.22,226.39 412.13,237.33" fill="#3a3631" />
<polygon points="387.75,209.57 412.13,223.34 429.49,213.40 405.10,199.63" fill="#cfa56c" />
<polygon points="387.75,222.57 412.13,236.34 412.13,223.34 387.75,209.57" fill="#c9995c" />
<polygon points="412.13,236.34 429.49,226.40 429.49,213.40 412.13,223.34" fill="#b8894f" />
<polyline points="387.75,220.94 412.13,234.71 429.49,224.77" fill="none" stroke="#9a6c3a" stroke-width="0.6"/>
<polyline points="387.75,219.32 412.13,233.09 429.49,223.15" fill="none" stroke="#9a6c3a" stroke-width="0.6"/>
<polyline points="387.75,217.69 412.13,231.46 429.49,221.52" fill="none" stroke="#9a6c3a" stroke-width="0.6"/>
<polyline points="387.75,216.07 412.13,229.84 429.49,219.90" fill="none" stroke="#9a6c3a" stroke-width="0.6"/>
<polyline points="387.75,214.44 412.13,228.21 429.49,218.27" fill="none" stroke="#9a6c3a" stroke-width="0.6"/>
<polyline points="387.75,212.82 412.13,226.59 429.49,216.65" fill="none" stroke="#9a6c3a" stroke-width="0.6"/>
<polyline points="387.75,211.19 412.13,224.96 429.49,215.02" fill="none" stroke="#9a6c3a" stroke-width="0.6"/>
<polygon points="429.44,214.56 479.94,243.08 507.71,227.18 457.21,198.66" fill="#c9cccf" />
<polygon points="457.21,193.65 505.10,220.69 505.10,208.69 457.21,181.65" fill="#e6e8eb" stroke="#9ea2a8" stroke-width="0.5"/>
<polygon points="432.05,208.06 457.21,193.65 457.21,181.65 432.05,196.06" fill="#eef0f2" stroke="#9ea2a8" stroke-width="0.5"/>
<polygon points="432.05,206.06 479.94,233.11 505.10,218.69 457.21,191.65" fill="#f8f9fa" />
<polygon points="439.87,196.54 460.77,208.34 477.25,198.90 456.35,187.10" fill="#cfa56c" />
<polygon points="439.87,205.54 460.77,217.34 460.77,208.34 439.87,196.54" fill="#c9995c" />
<polygon points="460.77,217.34 477.25,207.90 477.25,198.90 460.77,208.34" fill="#b8894f" />
<polyline points="439.87,203.74 460.77,215.54 477.25,206.10" fill="none" stroke="#9a6c3a" stroke-width="0.6"/>
<polyline points="439.87,201.94 460.77,213.74 477.25,204.30" fill="none" stroke="#9a6c3a" stroke-width="0.6"/>
<polyline points="439.87,200.14 460.77,211.94 477.25,202.50" fill="none" stroke="#9a6c3a" stroke-width="0.6"/>
<polyline points="439.87,198.34 460.77,210.14 477.25,200.70" fill="none" stroke="#9a6c3a" stroke-width="0.6"/>
<polygon points="454.66,202.95 477.30,215.73 492.05,207.28 469.41,194.50" fill="#cfa56c" />
<polygon points="454.66,209.95 477.30,222.73 477.30,215.73 454.66,202.95" fill="#c9995c" />
<polygon points="477.30,222.73 492.05,214.28 492.05,207.28 477.30,215.73" fill="#b8894f" />
<polyline points="454.66,208.20 477.30,220.98 492.05,212.53" fill="none" stroke="#9a6c3a" stroke-width="0.6"/>
<polyline points="454.66,206.45 477.30,219.23 492.05,210.78" fill="none" stroke="#9a6c3a" stroke-width="0.6"/>
<polyline points="454.66,204.70 477.30,217.48 492.05,209.03" fill="none" stroke="#9a6c3a" stroke-width="0.6"/>
<polygon points="452.03,194.53 479.88,204.31 485.95,198.85 458.10,189.07" fill="#c99b5f" stroke="#9a6c3a" stroke-width="0.5"/>
<polygon points="432.05,208.06 479.94,235.11 479.94,223.11 432.05,196.06" fill="#f4f5f6" fill-opacity="0.55" stroke="#9ea2a8" stroke-width="0.6"/>
<polygon points="479.94,235.11 505.10,220.69 505.10,208.69 479.94,223.11" fill="#eceef1" fill-opacity="0.75" stroke="#9ea2a8" stroke-width="0.6"/>
<line x1="432.05" y1="202.06" x2="479.94" y2="229.11" stroke="#b4b8bd" stroke-width="0.6" />
<ellipse cx="445.1" cy="217.0" rx="4.2" ry="5.4" fill="#eceded" stroke="#8e9298" stroke-width="1.3"/>
<ellipse cx="445.1" cy="217.0" rx="1.6" ry="2.2" fill="none" stroke="#9ea2a8" stroke-width="0.6"/>
<line x1="492.52" y1="226.90" x2="504.71" y2="237.78" stroke="#8e9298" stroke-width="1.3" />
<line x1="502.10" y1="235.31" x2="502.10" y2="240.31" stroke="#8e9298" stroke-width="1.1" />
<polygon points="403.57,275.39 408.36,278.10 413.13,275.36 408.34,272.66" fill="#dcb47c" />
<polygon points="403.57,280.89 408.36,283.60 408.36,278.10 403.57,275.39" fill="#c99a5e" />
<polygon points="408.36,283.60 413.13,280.86 413.13,275.36 408.36,278.10" fill="#b9884e" />
<polygon points="408.79,278.34 413.58,281.05 418.35,278.31 413.56,275.61" fill="#dcb47c" />
<polygon points="408.79,283.84 413.58,286.55 413.58,281.05 408.79,278.34" fill="#c99a5e" />
<polygon points="413.58,286.55 418.35,283.81 418.35,278.31 413.58,281.05" fill="#b9884e" />
<polygon points="408.77,272.41 413.56,275.12 418.34,272.38 413.55,269.68" fill="#dcb47c" />
<polygon points="408.77,277.91 413.56,280.62 413.56,275.12 408.77,272.41" fill="#c99a5e" />
<polygon points="413.56,280.62 418.34,277.88 418.34,272.38 413.56,275.12" fill="#b9884e" />
<polygon points="414.00,269.36 418.79,272.07 423.56,269.33 418.77,266.63" fill="#dcb47c" />
<polygon points="414.00,274.86 418.79,277.57 418.79,272.07 414.00,269.36" fill="#c99a5e" />
<polygon points="418.79,277.57 423.56,274.83 423.56,269.33 418.79,272.07" fill="#b9884e" />
<polygon points="403.57,269.39 408.36,272.10 413.13,269.36 408.34,266.66" fill="#dcb47c" />
<polygon points="403.57,274.89 408.36,277.60 408.36,272.10 403.57,269.39" fill="#c99a5e" />
<polygon points="408.36,277.60 413.13,274.86 413.13,269.36 408.36,272.10" fill="#b9884e" />
<polygon points="424.43,275.33 429.22,278.03 433.99,275.30 429.20,272.60" fill="#dcb47c" />
<polygon points="424.43,280.83 429.22,283.53 429.22,278.03 424.43,275.33" fill="#c99a5e" />
<polygon points="429.22,283.53 433.99,280.80 433.99,275.30 429.22,278.03" fill="#b9884e" />
<polygon points="414.02,283.27 418.81,285.98 423.58,283.24 418.79,280.54" fill="#dcb47c" />
<polygon points="414.02,288.77 418.81,291.48 418.81,285.98 414.02,283.27" fill="#c99a5e" />
<polygon points="418.81,291.48 423.58,288.74 423.58,283.24 418.81,285.98" fill="#b9884e" />
<line x1="493.08" y1="273.20" x2="493.08" y2="234.70" stroke="#4b3d31" stroke-width="1.3" />
<line x1="507.30" y1="281.23" x2="507.30" y2="242.73" stroke="#4b3d31" stroke-width="1.3" />
<line x1="521.52" y1="289.26" x2="521.52" y2="250.76" stroke="#4b3d31" stroke-width="1.3" />
<line x1="535.74" y1="297.29" x2="535.74" y2="258.79" stroke="#4b3d31" stroke-width="1.3" />
<polygon points="487.00,274.58 529.67,298.67 535.74,295.19 493.08,271.10" fill="#f1e3c6" />
<polygon points="487.00,275.68 529.67,299.77 529.67,298.67 487.00,274.58" fill="#e3cfa9" />
<polygon points="529.67,299.77 535.74,296.29 535.74,295.19 529.67,298.67" fill="#e3cfa9" />
<polygon points="489.23,270.25 496.34,274.26 501.37,271.38 494.26,267.36" fill="#dcb47c" />
<polygon points="489.23,275.25 496.34,279.26 496.34,274.26 489.23,270.25" fill="#c99a5e" />
<polygon points="496.34,279.26 501.37,276.38 501.37,271.38 496.34,274.26" fill="#b9884e" />
<polygon points="506.01,279.72 513.12,283.74 518.16,280.85 511.04,276.84" fill="#dcb47c" />
<polygon points="506.01,284.72 513.12,288.74 513.12,283.74 506.01,279.72" fill="#c99a5e" />
<polygon points="513.12,288.74 518.16,285.85 518.16,280.85 513.12,283.74" fill="#b9884e" />
<polygon points="517.67,286.31 524.78,290.32 529.82,287.44 522.71,283.42" fill="#dcb47c" />
<polygon points="517.67,291.31 524.78,295.32 524.78,290.32 517.67,286.31" fill="#c99a5e" />
<polygon points="524.78,295.32 529.82,292.44 529.82,287.44 524.78,290.32" fill="#b9884e" />
<polygon points="487.00,263.25 529.67,287.34 535.74,283.86 493.08,259.77" fill="#f1e3c6" />
<polygon points="487.00,264.35 529.67,288.44 529.67,287.34 487.00,263.25" fill="#e3cfa9" />
<polygon points="529.67,288.44 535.74,284.96 535.74,283.86 529.67,287.34" fill="#e3cfa9" />
<polygon points="491.79,260.36 498.90,264.37 503.93,261.49 496.82,257.47" fill="#dcb47c" />
<polygon points="491.79,265.36 498.90,269.37 498.90,264.37 491.79,260.36" fill="#c99a5e" />
<polygon points="498.90,269.37 503.93,266.49 503.93,261.49 498.90,264.37" fill="#b9884e" />
<polygon points="503.45,266.94 510.56,270.96 515.60,268.08 508.48,264.06" fill="#dcb47c" />
<polygon points="503.45,271.94 510.56,275.96 510.56,270.96 503.45,266.94" fill="#c99a5e" />
<polygon points="510.56,275.96 515.60,273.08 515.60,268.08 510.56,270.96" fill="#b9884e" />
<polygon points="520.23,276.42 527.34,280.44 532.38,277.55 525.27,273.54" fill="#dcb47c" />
<polygon points="520.23,281.42 527.34,285.44 527.34,280.44 520.23,276.42" fill="#c99a5e" />
<polygon points="527.34,285.44 532.38,282.55 532.38,277.55 527.34,280.44" fill="#b9884e" />
<polygon points="487.00,251.91 529.67,276.01 535.74,272.53 493.08,248.43" fill="#f1e3c6" />
<polygon points="487.00,253.01 529.67,277.11 529.67,276.01 487.00,251.91" fill="#e3cfa9" />
<polygon points="529.67,277.11 535.74,273.63 535.74,272.53 529.67,276.01" fill="#e3cfa9" />
<polygon points="489.23,247.58 496.34,251.59 501.37,248.71 494.26,244.70" fill="#dcb47c" />
<polygon points="489.23,252.58 496.34,256.59 496.34,251.59 489.23,247.58" fill="#c99a5e" />
<polygon points="496.34,256.59 501.37,253.71 501.37,248.71 496.34,251.59" fill="#b9884e" />
<polygon points="506.01,257.06 513.12,261.07 518.16,258.19 511.04,254.17" fill="#dcb47c" />
<polygon points="506.01,262.06 513.12,266.07 513.12,261.07 506.01,257.06" fill="#c99a5e" />
<polygon points="513.12,266.07 518.16,263.19 518.16,258.19 513.12,261.07" fill="#b9884e" />
<polygon points="517.67,263.64 524.78,267.66 529.82,264.77 522.71,260.76" fill="#dcb47c" />
<polygon points="517.67,268.64 524.78,272.66 524.78,267.66 517.67,263.64" fill="#c99a5e" />
<polygon points="524.78,272.66 529.82,269.77 529.82,264.77 524.78,267.66" fill="#b9884e" />
<polygon points="487.00,240.58 529.67,264.67 535.74,261.19 493.08,237.10" fill="#f1e3c6" />
<polygon points="487.00,241.68 529.67,265.77 529.67,264.67 487.00,240.58" fill="#e3cfa9" />
<polygon points="529.67,265.77 535.74,262.29 535.74,261.19 529.67,264.67" fill="#e3cfa9" />
<line x1="487.00" y1="276.68" x2="487.00" y2="238.18" stroke="#4b3d31" stroke-width="1.4" />
<line x1="501.22" y1="284.71" x2="501.22" y2="246.21" stroke="#4b3d31" stroke-width="1.4" />
<line x1="515.45" y1="292.74" x2="515.45" y2="254.24" stroke="#4b3d31" stroke-width="1.4" />
<line x1="529.67" y1="300.77" x2="529.67" y2="262.27" stroke="#4b3d31" stroke-width="1.4" />
<line x1="470.08" y1="286.37" x2="470.08" y2="247.87" stroke="#4b3d31" stroke-width="1.3" />
<line x1="484.30" y1="294.40" x2="484.30" y2="255.90" stroke="#4b3d31" stroke-width="1.3" />
<line x1="498.53" y1="302.44" x2="498.53" y2="263.94" stroke="#4b3d31" stroke-width="1.3" />
<line x1="512.75" y1="310.47" x2="512.75" y2="271.97" stroke="#4b3d31" stroke-width="1.3" />
<polygon points="464.01,287.75 506.67,311.85 512.75,308.37 470.08,284.27" fill="#f1e3c6" />
<polygon points="464.01,288.85 506.67,312.95 506.67,311.85 464.01,287.75" fill="#e3cfa9" />
<polygon points="506.67,312.95 512.75,309.47 512.75,308.37 506.67,311.85" fill="#e3cfa9" />
<polygon points="466.23,283.42 473.35,287.43 478.38,284.55 471.27,280.54" fill="#dcb47c" />
<polygon points="466.23,288.42 473.35,292.43 473.35,287.43 466.23,283.42" fill="#c99a5e" />
<polygon points="473.35,292.43 478.38,289.55 478.38,284.55 473.35,287.43" fill="#b9884e" />
<polygon points="483.02,292.90 490.13,296.91 495.16,294.03 488.05,290.01" fill="#dcb47c" />
<polygon points="483.02,297.90 490.13,301.91 490.13,296.91 483.02,292.90" fill="#c99a5e" />
<polygon points="490.13,301.91 495.16,299.03 495.16,294.03 490.13,296.91" fill="#b9884e" />
<polygon points="494.68,299.48 501.79,303.50 506.82,300.61 499.71,296.60" fill="#dcb47c" />
<polygon points="494.68,304.48 501.79,308.50 501.79,303.50 494.68,299.48" fill="#c99a5e" />
<polygon points="501.79,308.50 506.82,305.61 506.82,300.61 501.79,303.50" fill="#b9884e" />
<polygon points="464.01,276.42 506.67,300.51 512.75,297.03 470.08,272.94" fill="#f1e3c6" />
<polygon points="464.01,277.52 506.67,301.61 506.67,300.51 464.01,276.42" fill="#e3cfa9" />
<polygon points="506.67,301.61 512.75,298.13 512.75,297.03 506.67,300.51" fill="#e3cfa9" />
<polygon points="468.79,273.53 475.91,277.55 480.94,274.66 473.83,270.65" fill="#dcb47c" />
<polygon points="468.79,278.53 475.91,282.55 475.91,277.55 468.79,273.53" fill="#c99a5e" />
<polygon points="475.91,282.55 480.94,279.66 480.94,274.66 475.91,277.55" fill="#b9884e" />
<polygon points="480.46,280.12 487.57,284.13 492.60,281.25 485.49,277.23" fill="#dcb47c" />
<polygon points="480.46,285.12 487.57,289.13 487.57,284.13 480.46,280.12" fill="#c99a5e" />
<polygon points="487.57,289.13 492.60,286.25 492.60,281.25 487.57,284.13" fill="#b9884e" />
<polygon points="497.24,289.59 504.35,293.61 509.38,290.73 502.27,286.71" fill="#dcb47c" />
<polygon points="497.24,294.59 504.35,298.61 504.35,293.61 497.24,289.59" fill="#c99a5e" />
<polygon points="504.35,298.61 509.38,295.73 509.38,290.73 504.35,293.61" fill="#b9884e" />
<polygon points="464.01,265.09 506.67,289.18 512.75,285.70 470.08,261.61" fill="#f1e3c6" />
<polygon points="464.01,266.19 506.67,290.28 506.67,289.18 464.01,265.09" fill="#e3cfa9" />
<polygon points="506.67,290.28 512.75,286.80 512.75,285.70 506.67,289.18" fill="#e3cfa9" />
<polygon points="466.23,260.75 473.35,264.77 478.38,261.88 471.27,257.87" fill="#dcb47c" />
<polygon points="466.23,265.75 473.35,269.77 473.35,264.77 466.23,260.75" fill="#c99a5e" />
<polygon points="473.35,269.77 478.38,266.88 478.38,261.88 473.35,264.77" fill="#b9884e" />
<polygon points="483.02,270.23 490.13,274.24 495.16,271.36 488.05,267.35" fill="#dcb47c" />
<polygon points="483.02,275.23 490.13,279.24 490.13,274.24 483.02,270.23" fill="#c99a5e" />
<polygon points="490.13,279.24 495.16,276.36 495.16,271.36 490.13,274.24" fill="#b9884e" />
<polygon points="494.68,276.81 501.79,280.83 506.82,277.95 499.71,273.93" fill="#dcb47c" />
<polygon points="494.68,281.81 501.79,285.83 501.79,280.83 494.68,276.81" fill="#c99a5e" />
<polygon points="501.79,285.83 506.82,282.95 506.82,277.95 501.79,280.83" fill="#b9884e" />
<polygon points="464.01,253.75 506.67,277.85 512.75,274.37 470.08,250.27" fill="#f1e3c6" />
<polygon points="464.01,254.85 506.67,278.95 506.67,277.85 464.01,253.75" fill="#e3cfa9" />
<polygon points="506.67,278.95 512.75,275.47 512.75,274.37 506.67,277.85" fill="#e3cfa9" />
<line x1="464.01" y1="289.85" x2="464.01" y2="251.35" stroke="#4b3d31" stroke-width="1.4" />
<line x1="478.23" y1="297.88" x2="478.23" y2="259.38" stroke="#4b3d31" stroke-width="1.4" />
<line x1="492.45" y1="305.92" x2="492.45" y2="267.42" stroke="#4b3d31" stroke-width="1.4" />
<line x1="506.67" y1="313.95" x2="506.67" y2="275.45" stroke="#4b3d31" stroke-width="1.4" />
<line x1="447.09" y1="299.55" x2="447.09" y2="261.05" stroke="#4b3d31" stroke-width="1.3" />
<line x1="461.31" y1="307.58" x2="461.31" y2="269.08" stroke="#4b3d31" stroke-width="1.3" />
<line x1="475.53" y1="315.61" x2="475.53" y2="277.11" stroke="#4b3d31" stroke-width="1.3" />
<line x1="489.75" y1="323.64" x2="489.75" y2="285.14" stroke="#4b3d31" stroke-width="1.3" />
<polygon points="441.01,300.93 483.68,325.02 489.75,321.54 447.09,297.45" fill="#f1e3c6" />
<polygon points="441.01,302.03 483.68,326.12 483.68,325.02 441.01,300.93" fill="#e3cfa9" />
<polygon points="483.68,326.12 489.75,322.64 489.75,321.54 483.68,325.02" fill="#e3cfa9" />
<polygon points="443.24,296.59 450.35,300.61 455.38,297.72 448.27,293.71" fill="#dcb47c" />
<polygon points="443.24,301.59 450.35,305.61 450.35,300.61 443.24,296.59" fill="#c99a5e" />
<polygon points="450.35,305.61 455.38,302.72 455.38,297.72 450.35,300.61" fill="#b9884e" />
<polygon points="460.02,306.07 467.13,310.08 472.17,307.20 465.06,303.18" fill="#dcb47c" />
<polygon points="460.02,311.07 467.13,315.08 467.13,310.08 460.02,306.07" fill="#c99a5e" />
<polygon points="467.13,315.08 472.17,312.20 472.17,307.20 467.13,310.08" fill="#b9884e" />
<polygon points="471.69,312.65 478.80,316.67 483.83,313.79 476.72,309.77" fill="#dcb47c" />
<polygon points="471.69,317.65 478.80,321.67 478.80,316.67 471.69,312.65" fill="#c99a5e" />
<polygon points="478.80,321.67 483.83,318.79 483.83,313.79 478.80,316.67" fill="#b9884e" />
<polygon points="441.01,289.59 483.68,313.69 489.75,310.21 447.09,286.11" fill="#f1e3c6" />
<polygon points="441.01,290.69 483.68,314.79 483.68,313.69 441.01,289.59" fill="#e3cfa9" />
<polygon points="483.68,314.79 489.75,311.31 489.75,310.21 483.68,313.69" fill="#e3cfa9" />
<polygon points="445.80,286.70 452.91,290.72 457.94,287.84 450.83,283.82" fill="#dcb47c" />
<polygon points="445.80,291.70 452.91,295.72 452.91,290.72 445.80,286.70" fill="#c99a5e" />
<polygon points="452.91,295.72 457.94,292.84 457.94,287.84 452.91,290.72" fill="#b9884e" />
<polygon points="457.46,293.29 464.57,297.30 469.61,294.42 462.50,290.41" fill="#dcb47c" />
<polygon points="457.46,298.29 464.57,302.30 464.57,297.30 457.46,293.29" fill="#c99a5e" />
<polygon points="464.57,302.30 469.61,299.42 469.61,294.42 464.57,297.30" fill="#b9884e" />
<polygon points="474.25,302.77 481.36,306.78 486.39,303.90 479.28,299.88" fill="#dcb47c" />
<polygon points="474.25,307.77 481.36,311.78 481.36,306.78 474.25,302.77" fill="#c99a5e" />
<polygon points="481.36,311.78 486.39,308.90 486.39,303.90 481.36,306.78" fill="#b9884e" />
<polygon points="441.01,278.26 483.68,302.35 489.75,298.87 447.09,274.78" fill="#f1e3c6" />
<polygon points="441.01,279.36 483.68,303.45 483.68,302.35 441.01,278.26" fill="#e3cfa9" />
<polygon points="483.68,303.45 489.75,299.97 489.75,298.87 483.68,302.35" fill="#e3cfa9" />
<polygon points="443.24,273.92 450.35,277.94 455.38,275.06 448.27,271.04" fill="#dcb47c" />
<polygon points="443.24,278.92 450.35,282.94 450.35,277.94 443.24,273.92" fill="#c99a5e" />
<polygon points="450.35,282.94 455.38,280.06 455.38,275.06 450.35,277.94" fill="#b9884e" />
<polygon points="460.02,283.40 467.13,287.42 472.17,284.53 465.06,280.52" fill="#dcb47c" />
<polygon points="460.02,288.40 467.13,292.42 467.13,287.42 460.02,283.40" fill="#c99a5e" />
<polygon points="467.13,292.42 472.17,289.53 472.17,284.53 467.13,287.42" fill="#b9884e" />
<polygon points="471.69,289.99 478.80,294.00 483.83,291.12 476.72,287.10" fill="#dcb47c" />
<polygon points="471.69,294.99 478.80,299.00 478.80,294.00 471.69,289.99" fill="#c99a5e" />
<polygon points="478.80,299.00 483.83,296.12 483.83,291.12 478.80,294.00" fill="#b9884e" />
<polygon points="441.01,266.93 483.68,291.02 489.75,287.54 447.09,263.45" fill="#f1e3c6" />
<polygon points="441.01,268.03 483.68,292.12 483.68,291.02 441.01,266.93" fill="#e3cfa9" />
<polygon points="483.68,292.12 489.75,288.64 489.75,287.54 483.68,291.02" fill="#e3cfa9" />
<line x1="441.01" y1="303.03" x2="441.01" y2="264.53" stroke="#4b3d31" stroke-width="1.4" />
<line x1="455.24" y1="311.06" x2="455.24" y2="272.56" stroke="#4b3d31" stroke-width="1.4" />
<line x1="469.46" y1="319.09" x2="469.46" y2="280.59" stroke="#4b3d31" stroke-width="1.4" />
<line x1="483.68" y1="327.12" x2="483.68" y2="288.62" stroke="#4b3d31" stroke-width="1.4" />
<g transform="translate(547,263.5) scale(1.0)"><path d="M-1.5,-18 L-6,-4 L-7,-0.5 L-4.5,-0.5 L0.5,-12 L3.5,-3 L4.5,0.5 L7.5,0.5 L6.5,-3 L3.5,-18 Z" fill="#ece6dc" stroke="#6d6a66" stroke-width="0.5"/><ellipse cx="-6" cy="0" rx="2" ry="1.2" fill="#2a2a2e"/><ellipse cx="6.5" cy="1" rx="2" ry="1.2" fill="#2a2a2e"/><path d="M-4.5,-30.5 Q0,-32.5 4.5,-30.5 L5,-17 L-4.5,-17 Z" fill="#2c3566" stroke="#8d8a86" stroke-width="0.4"/><circle cx="0" cy="-34" r="2.8" fill="#efcfb3"/><path d="M-3.1,-33.6 A3.1,3.1 0 0 1 3.1,-34.4 L2.2,-33.8 Q0,-35 -2.4,-33 Z" fill="#2d2a28"/></g>
<g transform="translate(577,278.5) scale(1.0)"><path d="M-1.5,-18 L-6,-4 L-7,-0.5 L-4.5,-0.5 L0.5,-12 L3.5,-3 L4.5,0.5 L7.5,0.5 L6.5,-3 L3.5,-18 Z" fill="#ece6dc" stroke="#6d6a66" stroke-width="0.5"/><ellipse cx="-6" cy="0" rx="2" ry="1.2" fill="#2a2a2e"/><ellipse cx="6.5" cy="1" rx="2" ry="1.2" fill="#2a2a2e"/><path d="M-4.5,-30.5 Q0,-32.5 4.5,-30.5 L5,-17 L-4.5,-17 Z" fill="#2c3566" stroke="#8d8a86" stroke-width="0.4"/><circle cx="0" cy="-34" r="2.8" fill="#efcfb3"/><path d="M-3.1,-33.6 A3.1,3.1 0 0 1 3.1,-34.4 L2.2,-33.8 Q0,-35 -2.4,-33 Z" fill="#2d2a28"/></g>
<polygon points="544.00,245.00 557.00,238.50 574.00,248.00 561.00,255.00" fill="#d2a568" stroke="#8f6535" stroke-width="0.5"/>
<polygon points="544.00,245.00 561.00,255.00 561.00,260.00 544.00,250.00" fill="#b8884f" stroke="#8f6535" stroke-width="0.5"/>
<polygon points="561.00,255.00 574.00,248.00 574.00,253.00 561.00,260.00" fill="#a97a45" stroke="#8f6535" stroke-width="0.5"/>
<polygon points="524.14,341.58 627.77,400.09 664.82,378.87 561.20,320.35" fill="#b3b6bb" />
<polygon points="528.49,302.58 604.24,345.36 637.82,326.12 562.07,283.34" fill="#fcfcfd" stroke="#8e9298" stroke-width="0.5" stroke-linejoin="round"/>
<polygon points="604.24,345.36 618.18,370.73 651.76,351.49 637.82,326.12" fill="#e9ecef" stroke="#8e9298" stroke-width="0.5" stroke-linejoin="round"/>
<polygon points="618.18,370.73 630.37,382.61 663.95,363.37 651.76,351.49" fill="#fcfcfd" stroke="#8e9298" stroke-width="0.5" stroke-linejoin="round"/>
<line x1="535.44" y1="302.56" x2="562.08" y2="287.30" stroke="#c2c5ca" stroke-width="1.2" />
<polygon points="630.37,382.61 630.37,394.61 663.95,375.37 663.95,363.37" fill="#eef0f2" stroke="#8e9298" stroke-width="0.5"/>
<polygon points="528.49,302.58 604.24,345.36 618.18,370.73 630.37,382.61 630.37,394.61 528.49,337.08" fill="#fcfcfd" stroke="#8e9298" stroke-width="0.6" stroke-linejoin="round"/>
<line x1="585.96" y1="337.03" x2="585.96" y2="367.53" stroke="#8e9298" stroke-width="0.5" />
<polygon points="587.70,340.02 603.37,348.87 605.98,361.84 587.70,351.52" fill="#f3f4f6" stroke="#8e9298" stroke-width="0.5"/>
<line x1="640.44" y1="381.84" x2="653.87" y2="374.15" stroke="#a9adb3" stroke-width="2.2" />
<line x1="632.10" y1="383.62" x2="635.57" y2="381.63" stroke="#9ea2a8" stroke-width="1.5" />
<ellipse cx="544.60" cy="343.21" rx="5.93" ry="7.60" transform="rotate(-14 544.60 343.21)" fill="#2e3035"/>
<ellipse cx="544.60" cy="343.21" rx="3.80" ry="5.02" transform="rotate(-14 544.60 343.21)" fill="#eceded" stroke="#9a9ea3" stroke-width="0.5"/>
<circle cx="544.60" cy="343.21" r="1.37" fill="#b0b3b7"/>
<ellipse cx="616.87" cy="384.02" rx="5.93" ry="7.60" transform="rotate(-14 616.87 384.02)" fill="#2e3035"/>
<ellipse cx="616.87" cy="384.02" rx="3.80" ry="5.02" transform="rotate(-14 616.87 384.02)" fill="#eceded" stroke="#9a9ea3" stroke-width="0.5"/>
<circle cx="616.87" cy="384.02" r="1.37" fill="#b0b3b7"/>
<polygon points="332.00,173.00 391.00,141.00 445.00,174.00 388.00,205.00 342.00,181.00 332.00,184.00" fill="url(#orib)" />
<polygon points="391.00,139.00 455.00,105.00 507.50,137.50 450.00,171.00" fill="url(#hribs)" />
<polygon points="450.00,171.00 507.50,137.50 507.50,140.50 450.00,174.00" fill="#eceef0" stroke="#a9adb2" stroke-width="0.4"/>
<polygon points="446.50,169.00 451.00,171.50 451.00,180.00 446.50,177.50" fill="#c4c7cb" stroke="#8e9297" stroke-width="0.4"/>
<polygon points="386.50,204.00 390.00,206.00 390.00,214.00 386.50,212.00" fill="#c4c7cb" stroke="#8e9297" stroke-width="0.4"/>
<polygon points="616.90,263.00 678.00,296.00 616.00,331.00 562.00,295.30" fill="url(#orib)" />
<polygon points="678.20,227.50 742.80,258.20 678.00,296.00 621.70,263.00" fill="url(#hribs)" />
<polygon points="323.50,249.50 615.70,414.50 615.70,419.50 323.50,254.50" fill="#aeb1b6" />
<polygon points="615.70,414.50 744.00,341.00 744.00,345.00 615.70,419.50" fill="#c6c8cc" />
<line x1="323.50" y1="254.50" x2="615.70" y2="419.50" stroke="#7d8086" stroke-width="0.7" />
<line x1="323.50" y1="249.50" x2="615.70" y2="414.50" stroke="#8a8d92" stroke-width="0.6" />
<polygon points="323.50,166.00 327.00,168.00 327.00,251.50 323.50,254.50" fill="#aeb1b6" />
<line x1="327.00" y1="168.00" x2="327.00" y2="251.50" stroke="#8d9197" stroke-width="0.8" />
<polyline points="324.30,167.00 451.80,93.70 743.20,258.50" fill="none" stroke="#7b7f85" stroke-width="3.2" stroke-linejoin="miter"/>
<polyline points="324.30,167.00 451.80,93.70 743.20,258.50" fill="none" stroke="#c9ccd0" stroke-width="1.1" stroke-linejoin="miter"/>
<polygon points="621.90,333.95 675.21,303.41 675.21,311.41 621.90,341.95" fill="#e85b1d" />
<polygon points="613.44,329.72 741.74,256.22 744.00,257.50 615.70,331.00" fill="#c4c7cb" />
<polygon points="612.74,329.33 615.70,331.00 615.70,414.50 612.74,412.83" fill="#bfc2c6" />
<polygon points="615.70,331.00 744.00,257.50 744.00,264.50 615.70,338.00" fill="#3a3d44" />
<polygon points="615.70,331.00 621.90,331.00 621.90,414.50 615.70,414.50" fill="#3a3d44" />
<polygon points="738.30,257.50 744.00,257.50 744.00,341.00 738.30,341.00" fill="#3a3d44" />
<polygon points="675.30,295.37 677.90,295.37 677.90,378.87 675.30,378.87" fill="#c4c7cb" />
<polygon points="677.90,295.37 682.30,295.37 682.30,378.87 677.90,378.87" fill="#3a3d44" />
<line x1="49.40" y1="53.70" x2="115.00" y2="17.75" stroke="#55585c" stroke-width="0.75" />
<line x1="49.40" y1="53.70" x2="53.39" y2="53.93" stroke="#55585c" stroke-width="0.75" />
<line x1="49.40" y1="53.70" x2="51.36" y2="50.21" stroke="#55585c" stroke-width="0.75" />
<line x1="115.00" y1="17.75" x2="111.01" y2="17.52" stroke="#55585c" stroke-width="0.75" />
<line x1="115.00" y1="17.75" x2="113.04" y2="21.24" stroke="#55585c" stroke-width="0.75" />
<line x1="49.40" y1="58.10" x2="49.40" y2="140.50" stroke="#55585c" stroke-width="0.75" />
<line x1="49.40" y1="58.10" x2="47.28" y2="61.49" stroke="#55585c" stroke-width="0.75" />
<line x1="49.40" y1="58.10" x2="51.52" y2="61.49" stroke="#55585c" stroke-width="0.75" />
<line x1="49.40" y1="140.50" x2="51.52" y2="137.11" stroke="#55585c" stroke-width="0.75" />
<line x1="49.40" y1="140.50" x2="47.28" y2="137.11" stroke="#55585c" stroke-width="0.75" />
<line x1="52.90" y1="145.60" x2="163.80" y2="209.30" stroke="#55585c" stroke-width="0.75" />
<line x1="52.90" y1="145.60" x2="54.79" y2="149.13" stroke="#55585c" stroke-width="0.75" />
<line x1="52.90" y1="145.60" x2="56.90" y2="145.45" stroke="#55585c" stroke-width="0.75" />
<line x1="163.80" y1="209.30" x2="161.91" y2="205.77" stroke="#55585c" stroke-width="0.75" />
<line x1="163.80" y1="209.30" x2="159.80" y2="209.45" stroke="#55585c" stroke-width="0.75" />
<line x1="174.50" y1="203.50" x2="225.50" y2="173.50" stroke="#55585c" stroke-width="0.75" />
<line x1="174.50" y1="203.50" x2="178.50" y2="203.61" stroke="#55585c" stroke-width="0.75" />
<line x1="174.50" y1="203.50" x2="176.35" y2="199.95" stroke="#55585c" stroke-width="0.75" />
<line x1="225.50" y1="173.50" x2="221.50" y2="173.39" stroke="#55585c" stroke-width="0.75" />
<line x1="225.50" y1="173.50" x2="223.65" y2="177.05" stroke="#55585c" stroke-width="0.75" />
<line x1="317.70" y1="160.80" x2="445.80" y2="91.00" stroke="#55585c" stroke-width="0.75" />
<line x1="317.70" y1="160.80" x2="323.69" y2="161.16" stroke="#55585c" stroke-width="0.75" />
<line x1="317.70" y1="160.80" x2="320.65" y2="155.57" stroke="#55585c" stroke-width="0.75" />
<line x1="445.80" y1="91.00" x2="439.81" y2="90.64" stroke="#55585c" stroke-width="0.75" />
<line x1="445.80" y1="91.00" x2="442.85" y2="96.23" stroke="#55585c" stroke-width="0.75" />
<line x1="314.30" y1="167.50" x2="314.30" y2="252.50" stroke="#55585c" stroke-width="0.75" />
<line x1="314.30" y1="167.50" x2="311.12" y2="172.59" stroke="#55585c" stroke-width="0.75" />
<line x1="314.30" y1="167.50" x2="317.48" y2="172.59" stroke="#55585c" stroke-width="0.75" />
<line x1="314.30" y1="252.50" x2="317.48" y2="247.41" stroke="#55585c" stroke-width="0.75" />
<line x1="314.30" y1="252.50" x2="311.12" y2="247.41" stroke="#55585c" stroke-width="0.75" />
<line x1="316.10" y1="258.20" x2="608.00" y2="424.80" stroke="#55585c" stroke-width="0.75" />
<line x1="316.10" y1="258.20" x2="320.36" y2="266.13" stroke="#55585c" stroke-width="0.75" />
<line x1="316.10" y1="258.20" x2="325.09" y2="257.84" stroke="#55585c" stroke-width="0.75" />
<line x1="608.00" y1="424.80" x2="603.74" y2="416.87" stroke="#55585c" stroke-width="0.75" />
<line x1="608.00" y1="424.80" x2="599.01" y2="425.16" stroke="#55585c" stroke-width="0.75" />
<line x1="622.00" y1="423.00" x2="683.00" y2="387.00" stroke="#55585c" stroke-width="0.75" />
<line x1="622.00" y1="423.00" x2="628.00" y2="423.15" stroke="#55585c" stroke-width="0.75" />
<line x1="622.00" y1="423.00" x2="624.77" y2="417.68" stroke="#55585c" stroke-width="0.75" />
<line x1="683.00" y1="387.00" x2="677.00" y2="386.85" stroke="#55585c" stroke-width="0.75" />
<line x1="683.00" y1="387.00" x2="680.23" y2="392.32" stroke="#55585c" stroke-width="0.75" />
<line x1="57.00" y1="362.50" x2="186.25" y2="289.50" stroke="#55585c" stroke-width="0.75" />
<line x1="57.00" y1="362.50" x2="61.00" y2="362.68" stroke="#55585c" stroke-width="0.75" />
<line x1="57.00" y1="362.50" x2="58.91" y2="358.99" stroke="#55585c" stroke-width="0.75" />
<line x1="186.25" y1="289.50" x2="182.25" y2="289.32" stroke="#55585c" stroke-width="0.75" />
<line x1="186.25" y1="289.50" x2="184.34" y2="293.01" stroke="#55585c" stroke-width="0.75" />
<line x1="53.30" y1="369.50" x2="53.30" y2="455.00" stroke="#55585c" stroke-width="0.75" />
<line x1="53.30" y1="369.50" x2="51.18" y2="372.89" stroke="#55585c" stroke-width="0.75" />
<line x1="53.30" y1="369.50" x2="55.42" y2="372.89" stroke="#55585c" stroke-width="0.75" />
<line x1="53.30" y1="455.00" x2="55.42" y2="451.61" stroke="#55585c" stroke-width="0.75" />
<line x1="53.30" y1="455.00" x2="51.18" y2="451.61" stroke="#55585c" stroke-width="0.75" />
<line x1="56.25" y1="461.25" x2="229.00" y2="559.00" stroke="#55585c" stroke-width="0.75" />
<line x1="56.25" y1="461.25" x2="58.16" y2="464.77" stroke="#55585c" stroke-width="0.75" />
<line x1="56.25" y1="461.25" x2="60.25" y2="461.08" stroke="#55585c" stroke-width="0.75" />
<line x1="229.00" y1="559.00" x2="227.09" y2="555.48" stroke="#55585c" stroke-width="0.75" />
<line x1="229.00" y1="559.00" x2="225.00" y2="559.17" stroke="#55585c" stroke-width="0.75" />
<line x1="241.00" y1="557.00" x2="302.00" y2="522.00" stroke="#55585c" stroke-width="0.75" />
<line x1="241.00" y1="557.00" x2="245.00" y2="557.15" stroke="#55585c" stroke-width="0.75" />
<line x1="241.00" y1="557.00" x2="242.89" y2="553.47" stroke="#55585c" stroke-width="0.75" />
<line x1="302.00" y1="522.00" x2="298.00" y2="521.85" stroke="#55585c" stroke-width="0.75" />
<line x1="302.00" y1="522.00" x2="300.11" y2="525.53" stroke="#55585c" stroke-width="0.75" />
<rect x="12" y="558.6" width="51" height="1.4" fill="#2b2b2b"/>
<rect x="63.5" y="558.6" width="67" height="1.4" fill="#d9782f"/>
<path d="M56,208.8 C38,212 22,228 21,248 C21,264 30,278 40,287 L37,296.5 L70,286.5 L53,258 L48.5,265 C38,256 32,245 33,233 C34,222 42,213 56,208.8 Z" fill="#e85b1d"/>
<path d="M422.5,462 C432,478 446,486 462,486 C478,486 492,478 503,462 L513,464 L496,433 L471,455 L489,457 C480,470 468,477 452,477 C440,477 430,471 422.5,462 Z" fill="#e85b1d"/>
<path d="M217.50,28.10 C219.89,28.03 225.60,28.27 228.10,29.00 C230.60,29.73 231.45,31.08 232.50,32.50 C233.55,33.92 233.36,34.17 234.40,37.50 C235.44,40.83 237.67,48.75 238.75,52.50 C239.83,56.25 240.69,57.71 240.90,60.00 C241.11,62.29 240.78,64.38 240.00,66.25 C239.22,68.12 237.50,69.79 236.25,71.25 C235.00,72.71 233.64,74.06 232.50,75.00 C231.36,75.94 230.44,76.69 229.40,76.90 C228.36,77.11 228.23,77.19 226.25,76.25 C224.27,75.31 221.04,73.44 217.50,71.25 C213.96,69.06 208.96,65.49 205.00,63.10 C201.04,60.71 196.04,58.77 193.75,56.90 C191.46,55.03 191.56,53.67 191.25,51.90 C190.94,50.12 191.07,47.92 191.90,46.25 C192.73,44.58 193.65,43.98 196.25,41.90 C198.85,39.82 204.58,35.83 207.50,33.75 C210.42,31.67 212.08,30.34 213.75,29.40 C215.42,28.46 215.11,28.17 217.50,28.10 Z" fill="#e85b1d"/>
<path d="M335.50,315.60 C338.78,315.27 346.17,315.13 349.20,315.90 C352.23,316.67 352.43,318.22 353.70,320.20 C354.97,322.18 355.02,321.98 356.80,327.80 C358.58,333.62 363.27,349.28 364.40,355.10 C365.53,360.92 364.87,360.43 363.60,362.70 C362.33,364.97 359.72,366.18 356.80,368.70 C353.88,371.22 348.88,376.53 346.10,377.80 C343.32,379.07 346.92,380.08 340.10,376.30 C333.28,372.52 311.78,360.15 305.20,355.10 C298.62,350.05 300.98,349.03 300.60,346.00 C300.22,342.97 301.38,339.43 302.90,336.90 C304.42,334.37 305.27,333.97 309.70,330.80 C314.13,327.63 325.20,320.43 329.50,317.90 C333.80,315.37 332.22,315.93 335.50,315.60 Z" fill="#e85b1d"/>
<path d="M697.50,148.40 C701.88,148.10 715.32,148.77 720.00,149.40 C724.68,150.03 723.88,150.65 725.60,152.20 C727.32,153.75 729.05,156.05 730.30,158.70 C731.55,161.35 731.70,163.40 733.10,168.10 C734.50,172.80 737.13,181.58 738.70,186.90 C740.27,192.22 741.72,196.57 742.50,200.00 C743.28,203.43 743.88,205.00 743.40,207.50 C742.92,210.00 741.63,212.20 739.60,215.00 C737.57,217.80 734.47,221.18 731.20,224.30 C727.93,227.42 722.82,231.67 720.00,233.70 C717.18,235.73 716.18,236.18 714.30,236.50 C712.42,236.82 710.88,236.53 708.70,235.60 C706.52,234.67 705.57,233.72 701.20,230.90 C696.83,228.08 688.75,222.92 682.50,218.70 C676.25,214.48 667.77,209.03 663.70,205.60 C659.63,202.17 659.35,201.22 658.10,198.10 C656.85,194.98 656.05,190.18 656.20,186.90 C656.35,183.62 657.43,180.75 659.00,178.40 C660.57,176.05 661.68,175.77 665.60,172.80 C669.52,169.83 677.82,164.20 682.50,160.60 C687.18,157.00 691.20,153.23 693.70,151.20 C696.20,149.17 693.12,148.70 697.50,148.40 Z" fill="#e85b1d"/>
</svg>
<span class="tg" style="left:464.02px;top:9.9px;transform:scaleX(0.938)">U</span>
<span class="tg" style="left:490.77px;top:9.9px;transform:scaleX(1.016)">n</span>
<span class="tg" style="left:512.98px;top:9.9px;transform:scaleX(0.821)">s</span>
<span class="tg" style="left:531.27px;top:9.9px;transform:scaleX(1.026)">e</span>
<span class="tg" style="left:553.86px;top:9.9px;transform:scaleX(0.969)">r</span>
<span class="tg" style="left:568.37px;top:9.9px;transform:scaleX(1.032)">e</span>
<span class="tg" style="left:598.90px;top:9.9px;transform:scaleX(1.186)">f</span>
<span class="tg" style="left:616.91px;top:9.9px;transform:scaleX(0.943)">l</span>
<span class="tg" style="left:626.49px;top:9.9px;transform:scaleX(1.111)">e</span>
<span class="tg" style="left:649.80px;top:9.9px;transform:scaleX(0.895)">x</span>
<span class="tg" style="left:668.91px;top:9.9px;transform:scaleX(0.943)">i</span>
<span class="tg" style="left:678.59px;top:9.9px;transform:scaleX(1.055)">b</span>
<span class="tg" style="left:703.21px;top:9.9px;transform:scaleX(0.943)">l</span>
<span class="tg" style="left:712.89px;top:9.9px;transform:scaleX(1.105)">e</span>
<span class="tg" style="left:736.44px;top:9.9px;transform:scaleX(0.932)">n</span>
<span class="tg" style="left:524.67px;top:63.5px;transform:scaleX(0.867)">L</span>
<span class="tg" style="left:546.29px;top:63.5px;transform:scaleX(1.005)">ɑ</span>
<span class="tg" style="left:569.14px;top:63.5px;transform:scaleX(0.960)">ɡ</span>
<span class="tg" style="left:590.99px;top:63.5px;transform:scaleX(1.005)">e</span>
<span class="tg" style="left:610.91px;top:63.5px;transform:scaleX(1.046)">r</span>
<span class="tg" style="left:628.44px;top:63.5px;transform:scaleX(0.955)">ɡ</span>
<span class="tg" style="left:649.53px;top:63.5px;transform:scaleX(1.085)">r</span>
<span class="tg" style="left:667.17px;top:63.5px;transform:scaleX(0.933)">ö</span>
<span class="tg" style="left:691.61px;top:63.5px;transform:scaleX(0.745)">ß</span>
<span class="tg" style="left:712.41px;top:63.5px;transform:scaleX(0.989)">e</span>
<span class="tg" style="left:733.25px;top:63.5px;transform:scaleX(1.026)">n</span>
<div class="b" style="left:197px;top:49.6px;font-size:14.2px;letter-spacing:0.9px">28m<sup>2</sup></div>
<div class="b" style="left:309.5px;top:342.5px;font-size:19px;letter-spacing:0.9px">56m<sup>2</sup></div>
<div class="b" style="left:663px;top:184.5px;font-size:24.2px;letter-spacing:1.1px">112m<sup>2</sup></div>
<div class="d" style="left:71px;top:28.2px">3,50 m</div>
<div class="d" style="left:32px;top:89.7px">4,50 m</div>
<div class="d" style="left:89px;top:179.2px">8,00 m</div>
<div class="d" style="left:212.5px;top:193.7px">2,90 m</div>
<div class="d" style="left:370.8px;top:116.9px">6,90 m</div>
<div class="d" style="left:295px;top:208.2px">4,50 m</div>
<div class="d" style="left:443px;top:346.2px">16,00 m</div>
<div class="d" style="left:669px;top:409.2px">2,90 m</div>
<div class="d" style="left:111.3px;top:315.5px">6,90 m</div>
<div class="d" style="left:33.8px;top:409.2px">4,50 m</div>
<div class="d" style="left:111.7px;top:511.3px">8,00 m</div>
<div class="d" style="left:288.3px;top:546.7px">2,90 m</div>
<div class="logo s" style="left:10.7px">STORAGE</div><div class="logo n" style="left:105.6px">24</div>
</body></html>
